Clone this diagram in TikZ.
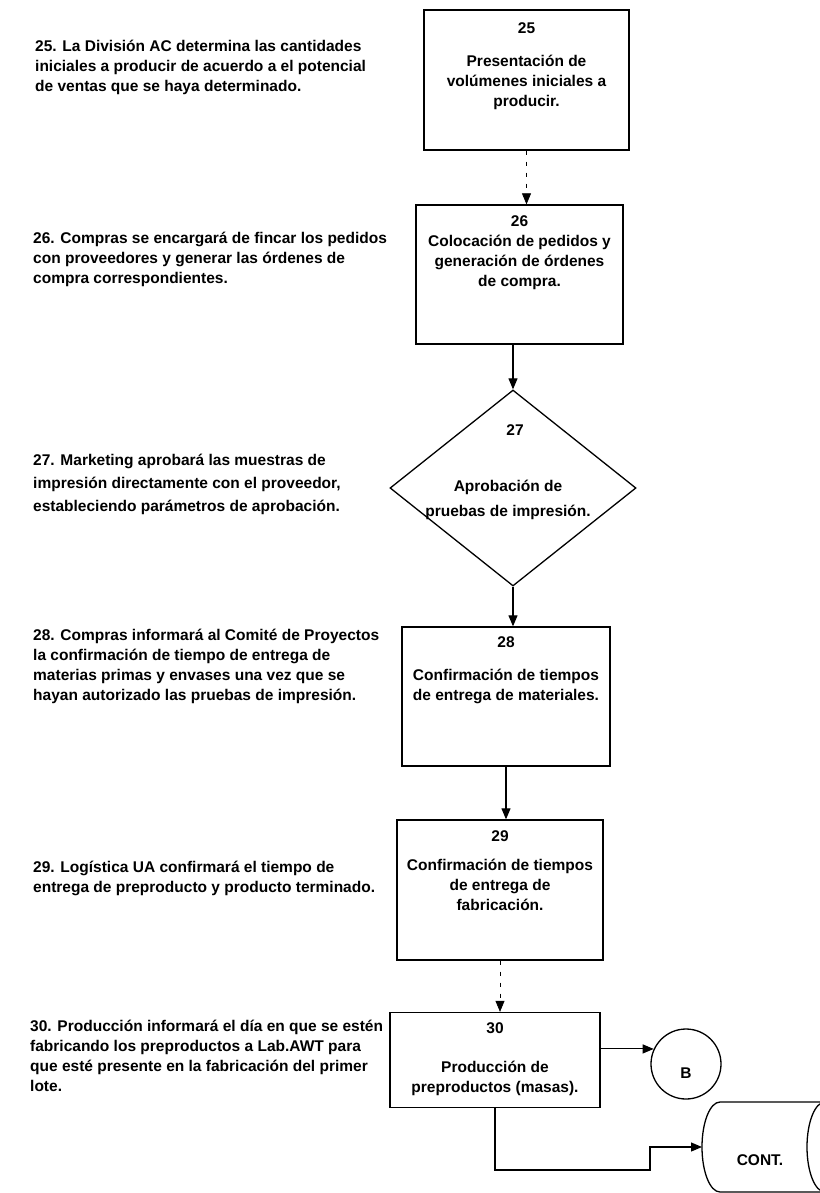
\documentclass[tikz,border=0pt]{standalone}
\usepackage{fontspec}
\setmainfont{Liberation Sans}
\usetikzlibrary{arrows.meta,shapes.geometric}

\begin{document}
\begin{tikzpicture}[x=1pt,y=-1pt,
  boxline/.style={line width=1.3pt},
  proc/.style={draw, boxline, inner sep=0pt},
  note/.style={anchor=north west, align=left, inner sep=0pt,
               font=\fontsize{15.5}{20}\selectfont\bfseries},
  boxtxt/.style={align=center, inner sep=0pt,
               font=\fontsize{15.5}{20}\selectfont\bfseries},
  flow/.style={line width=1.1pt, -{Triangle[width=9pt,length=11pt]}},
  faint/.style={flow, line width=0.7pt, dash pattern=on 4pt off 7pt}]

\useasboundingbox (0,0) rectangle (819,1193);

% process boxes
\node[proc, minimum width=205pt, minimum height=140pt] (b25) at (526.5,80) {};
\node[proc, minimum width=207pt, minimum height=139pt] (b26) at (519.5,274.5) {};
\node[draw, boxline, diamond, inner sep=0pt, minimum width=246pt, minimum height=196pt] (d27) at (513,488) {};
\node[proc, minimum width=208pt, minimum height=139pt] (b28) at (506,696.5) {};
\node[proc, minimum width=206pt, minimum height=140pt] (b29) at (500,890) {};
\node[proc, minimum width=210pt, minimum height=95pt] (b30) at (495,1060) {};

% texts inside the boxes
\node[boxtxt] (n25) at (526.5,28) {25};
\node[boxtxt, anchor=north] (t25) at (526.5,55) {Presentación de\\volúmenes iniciales a\\producir.};
\node[boxtxt] (n26) at (519.5,221) {26};
\node[boxtxt, anchor=north] (t26) at (519.5,235) {Colocación de pedidos y\\generación de órdenes\\de compra.};
\node[boxtxt] (n27) at (515,430) {27};
\node[boxtxt, anchor=north, font=\fontsize{15.5}{25}\selectfont\bfseries] (t27) at (508,480) {Aprobación de\\pruebas de impresión.};
\node[boxtxt] (n28) at (506,642) {28};
\node[boxtxt, anchor=north] (t28) at (506,669) {Confirmación de tiempos\\de entrega de materiales.};
\node[boxtxt] (n29) at (500,836) {29};
\node[boxtxt, anchor=north] (t29) at (500,859) {Confirmación de tiempos\\de entrega de\\fabricación.};
\node[boxtxt] (n30) at (495,1028) {30};
\node[boxtxt, anchor=north] (t30) at (495,1061) {Producción de\\preproductos (masas).};

% descriptions on the left
\node[note] (d25) at (35,40) {25. La División AC determina las cantidades\\iniciales a producir de acuerdo a el potencial\\de ventas que se haya determinado.};
\node[note] (d26) at (33,232) {26. Compras se encargará de fincar los pedidos\\con proveedores y generar las órdenes de\\compra correspondientes.};
\node[note, font=\fontsize{15.5}{23}\selectfont\bfseries] (d27t) at (33,454) {27. Marketing aprobará las muestras de\\impresión directamente con el proveedor,\\estableciendo parámetros de aprobación.};
\node[note] (d28) at (33,629) {28. Compras informará al Comité de Proyectos\\la confirmación de tiempo de entrega de\\materias primas y envases una vez que se\\hayan autorizado las pruebas de impresión.};
\node[note] (d29) at (33,861) {29. Logística UA confirmará el tiempo de\\entrega de preproducto y producto terminado.};
\node[note] (d30) at (30,1020) {30. Producción informará el día en que se estén\\fabricando los preproductos a Lab.AWT para\\que esté presente en la fabricación del primer\\lote.};

% connector B
\node[draw, boxline, circle, minimum size=70pt, inner sep=0pt,
      label={[boxtxt, yshift=-9pt]center:B}] (cB) at (686,1064) {};

% continuation store
\draw[boxline] (832,1102) -- (720,1102)
  arc[start angle=270, end angle=90, x radius=18, y radius=45] -- (832,1192);
\draw[boxline] (825,1147) ellipse[x radius=18, y radius=45];
\node[boxtxt] (cont) at (760,1160) {CONT.};
\coordinate (contIn) at (702,1147);
\coordinate (bend) at (650,1170);

% flow
\draw[faint] (b25.south) -- (b25.south |- b26.north);
\draw[flow] (d27.north |- b26.south) -- (d27.north);
\draw[flow] (d27.south) -- (d27.south |- b28.north);
\draw[flow] (b28.south) -- (b28.south |- b29.north);
\draw[faint] (b29.south) -- (b29.south |- b30.north);
\draw[flow] (b30.east |- cB.155) -- (cB.155);
\draw[flow] (b30.south) |- (bend) |- (contIn);

\end{tikzpicture}
\end{document}
